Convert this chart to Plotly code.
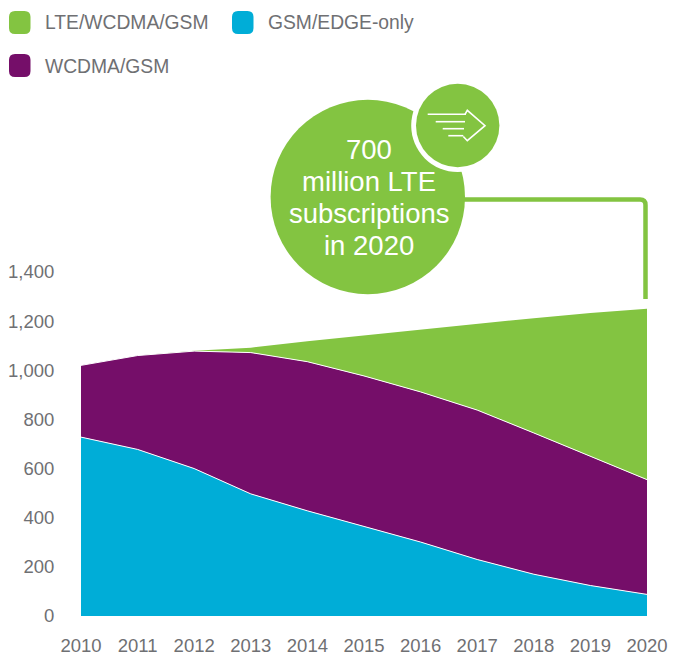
import plotly.graph_objects as go

W, H = 675, 655
L, R, T, B = 81, 647, 272, 616  # plot rectangle in page pixels

years = [2010, 2011, 2012, 2013, 2014, 2015, 2016, 2017, 2018, 2019, 2020]
gsm_edge_only = [728, 678, 600, 497, 428, 366, 301, 230, 170, 124, 88]
wcdma_gsm = [292, 382, 478, 575, 607, 611, 611, 608, 575, 526, 467]
lte_wcdma_gsm = [0, 0, 2, 20, 83, 165, 253, 352, 467, 583, 695]
y_ticks = [0, 200, 400, 600, 800, 1000, 1200, 1400]
tick_labels = ["0", "200", "400", "600", "800", "1,000", "1,200", "1,400"]

GREEN, PURPLE, BLUE = "#83c441", "#750e69", "#00add7"
GREY = "#6f7073"
FONT = "Liberation Sans"


def px(x):
    return (x - L) / (R - L)


def py(y):
    return (B - y) / (B - T)


def circle(cx, cy, r, color):
    return dict(type="circle", xref="paper", yref="paper", layer="above",
                x0=px(cx - r), x1=px(cx + r), y0=py(cy + r), y1=py(cy - r),
                fillcolor=color, line_width=0)


def pixel_path(points, color, width, close=False):
    d = "M" + " L".join(f"{px(x):.5f},{py(y):.5f}" for x, y in points)
    return dict(type="path", xref="paper", yref="paper", layer="above",
                path=d + (" Z" if close else ""), line=dict(color=color, width=width),
                fillcolor="rgba(0,0,0,0)")


def swatch(x0, y0, x1, y1, color, r=6):
    a, b, c, d = px(x0), px(x1), py(y0), py(y1)
    rx, ry = r / (R - L), r / (B - T)
    path = (f"M{a + rx},{c} L{b - rx},{c} Q{b},{c} {b},{c - ry} L{b},{d + ry} Q{b},{d} {b - rx},{d} "
            f"L{a + rx},{d} Q{a},{d} {a},{d + ry} L{a},{c - ry} Q{a},{c} {a + rx},{c} Z")
    return dict(type="path", xref="paper", yref="paper", layer="above", path=path,
                fillcolor=color, line_width=0)


def label(x, y, text, size, color, anchor="left"):
    return dict(x=px(x), y=py(y), xref="paper", yref="paper", text=text, showarrow=False,
                xanchor=anchor, yanchor="middle", font=dict(family=FONT, size=size, color=color),
                borderpad=0, borderwidth=0)


fig = go.Figure()
for name, values, color, lw in [
    ("GSM/EDGE-only", gsm_edge_only, BLUE, 1),
    ("WCDMA/GSM", wcdma_gsm, PURPLE, 1),
    ("LTE/WCDMA/GSM", lte_wcdma_gsm, GREEN, 0),
]:
    fig.add_trace(go.Scatter(x=years, y=values, name=name, stackgroup="one", mode="lines",
                             fillcolor=color, line=dict(color="white", width=lw), hoverinfo="skip"))

shapes = [
    swatch(9, 11, 30.5, 34, GREEN),
    swatch(232, 11, 253.5, 34, BLUE),
    swatch(9, 54, 30.5, 77, PURPLE),
    # callout leader running from the bubble to the 2020 total
    dict(type="path", xref="paper", yref="paper", layer="above",
         path=(f"M{px(460)},{py(199.5)} L{px(640)},{py(199.5)} Q{px(645.5)},{py(199.5)} "
               f"{px(645.5)},{py(205)} L{px(645.5)},{py(299)}"),
         line=dict(color=GREEN, width=4.5), fillcolor="rgba(0,0,0,0)"),
    circle(367.8, 197, 97.2, GREEN),
    circle(457.7, 125.5, 46.5, "white"),
    circle(457.7, 125.5, 41.7, GREEN),
    # speed-lines arrow icon inside the small bubble
    pixel_path([(427.7, 114.3), (466, 114.3)], "white", 1.6),
    pixel_path([(435.7, 121.7), (465, 121.7)], "white", 1.6),
    pixel_path([(442.7, 128.7), (464, 128.7)], "white", 1.6),
    pixel_path([(448.3, 135.7), (463.3, 135.7)], "white", 1.6),
    pixel_path([(465, 114.3), (467.3, 110.3), (485, 125.7), (467.3, 140.7), (463.3, 136.5)], "white", 1.6),
]

annotations = [
    label(44.5, 22.5, "LTE/WCDMA/GSM", 19.3, GREY),
    label(267.5, 22.5, "GSM/EDGE-only", 19.3, GREY),
    label(44.5, 66, "WCDMA/GSM", 19.3, GREY),
    label(369, 149.5, "700", 27.5, "white", "center"),
    label(369, 181.5, "million LTE", 27.5, "white", "center"),
    label(369, 213.5, "subscriptions", 27.5, "white", "center"),
    label(369, 245, "in 2020", 27.5, "white", "center"),
]

fig.update_layout(
    width=W, height=H, autosize=False,
    margin=dict(l=L, r=W - R, t=T, b=H - B, autoexpand=False),
    paper_bgcolor="white", plot_bgcolor="white",
    showlegend=False, hovermode=False,
    shapes=shapes, annotations=annotations,
    font=dict(family=FONT, size=18, color=GREY),
    xaxis=dict(range=[2010, 2020], tickvals=years, showgrid=False, zeroline=False, showline=False,
               ticks="outside", ticklen=13, tickcolor="rgba(0,0,0,0)", tickangle=0,
               tickfont=dict(family=FONT, size=18.5, color=GREY)),
    yaxis=dict(range=[0, 1400], tickvals=y_ticks, ticktext=tick_labels, showgrid=False, zeroline=False,
               showline=False, ticks="outside", ticklen=22, tickcolor="rgba(0,0,0,0)",
               tickfont=dict(family=FONT, size=18.5, color=GREY)),
)

fig.write_html("out.html", config=dict(displayModeBar=False))
